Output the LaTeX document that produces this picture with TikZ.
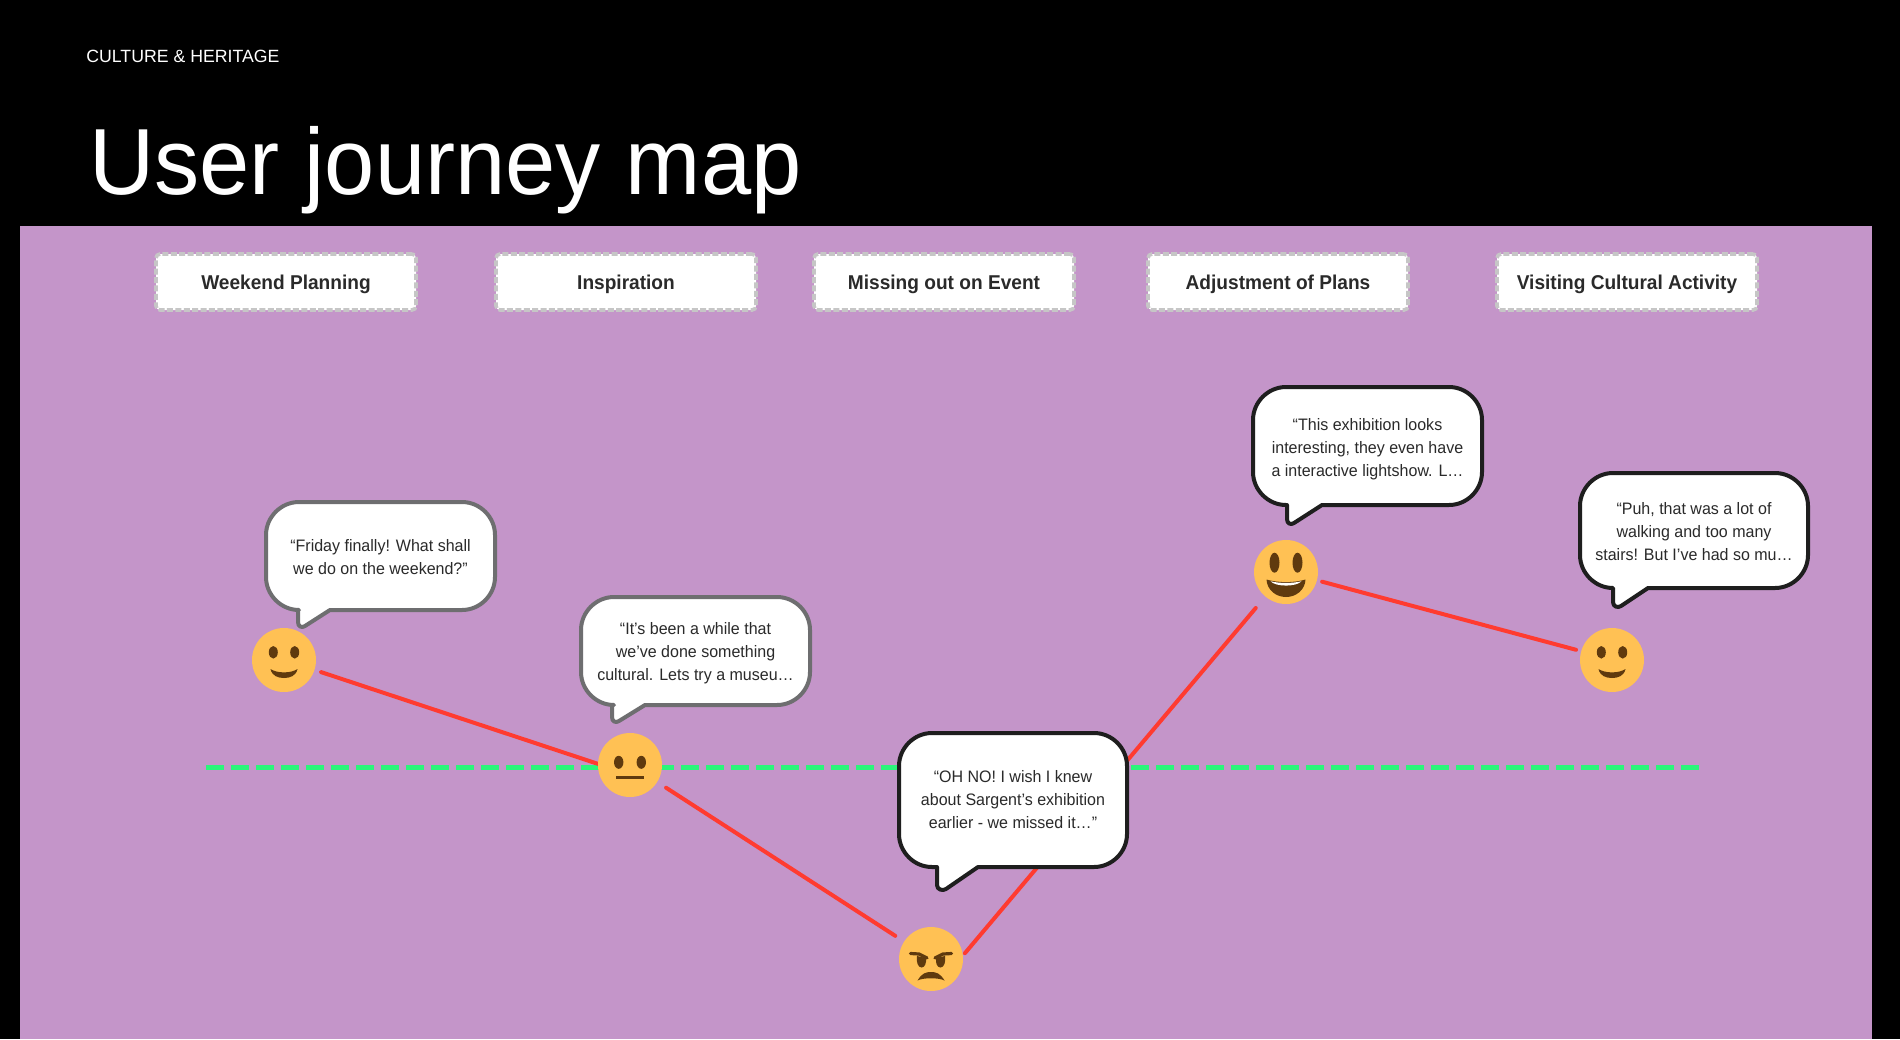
\documentclass[tikz,border=0pt]{standalone}
\usepackage{fontspec}
\setmainfont{Liberation Sans}
\newfontfamily\quotefont[FakeStretch=0.965]{Liberation Sans}
\newfontfamily\titlefont[FakeStretch=0.96]{Liberation Sans}
\newfontfamily\tilefont[FakeStretch=0.955]{Liberation Sans Bold}
\usetikzlibrary{calc}
\definecolor{stage}{HTML}{C495C9}
\definecolor{facefill}{HTML}{FFC154}
\definecolor{facedark}{HTML}{5F3A0E}
\definecolor{redline}{HTML}{FF3B30}
\definecolor{greenline}{HTML}{2BF57A}
\definecolor{inkdark}{HTML}{1E1E1E}
\definecolor{inkgrey}{HTML}{6E6E70}
\definecolor{tileedge}{HTML}{C6C6C6}
\definecolor{inktext}{HTML}{2A2A2A}
\pgfdeclarelayer{back}
\pgfsetlayers{back,main}
\tikzset{
  x=0.5pt,y=-0.5pt,
  tile/.style={draw=tileedge,fill=white,line width=1.8pt,dash pattern=on 3pt off 1.2pt,rounded corners=2pt,minimum width=130pt,minimum height=28pt,inner sep=0pt,text height=8.5pt,text depth=1.5pt,font=\tilefont\fontsize{10}{12}\selectfont,text=inktext},
  face/.style={circle,fill=facefill,minimum size=32pt,inner sep=0pt,outer sep=0pt},
  journey/.style={draw=redline,line width=2pt,line cap=round},
  quote/.style={align=center,inner sep=0pt,font=\quotefont\fontsize{8.3}{11.5}\selectfont,text=inktext},
  feat/.style={fill=facedark,draw=none},
}
\begin{document}
\begin{tikzpicture}
\useasboundingbox (0,0) rectangle (1900,1039);
\begin{pgfonlayer}{back}
\fill[black] (0,0) rectangle (1900,1039);
\fill[stage] (20,225.5) rectangle (1872,1039);
\coordinate (gstart) at (206,767);
\coordinate (gend) at (1702,767);
\draw[greenline,line width=2.5pt,dash pattern=on 9pt off 3.5pt] (gstart) -- (gend);
\end{pgfonlayer}

\node[anchor=base west,inner sep=0pt,text=white,font=\fontsize{8.85}{11}\selectfont] (kicker) at (86,62) {CULTURE \& HERITAGE};
\node[anchor=base west,inner sep=0pt,text=white,font=\titlefont\fontsize{47}{56}\selectfont] (title) at (89,194) {User journey map};

\node[tile] (t1) at (286,282) {Weekend Planning};
\node[tile] (t2) at (626,282) {Inspiration};
\node[tile] (t3) at (944,282) {Missing out on Event};
\node[tile] (t4) at (1278,282) {Adjustment of Plans};
\node[tile] (t5) at (1627,282) {Visiting Cultural Activity};

\node[face] (e1) at (284,660) {};
\node[face] (e2) at (630,765) {};
\node[face] (e3) at (931,959) {};
\node[face] (e4) at (1286,572) {};
\node[face] (e5) at (1612,660) {};

\begin{pgfonlayer}{back}
\draw[journey,shorten <=3.5pt] (e1.-18) -- (e2.178);
\draw[journey,shorten <=5.3pt,shorten >=5.3pt] (e2.-32.6) -- (e3.147.4);
\draw[journey,shorten <=1.6pt,shorten >=7.5pt] (e3.6.5) -- (e4.-130);
\draw[journey,shorten <=2.7pt,shorten >=2.7pt] (e4.-15.5) -- (e5.164.5);
\end{pgfonlayer}

% smile faces
\foreach \f in {e1,e5}{
\begin{scope}[shift={(\f.center)}]
  \fill[feat] (-10.7,-7.7) ellipse [x radius=4.5,y radius=6.3];
  \fill[feat] (10.7,-7.7) ellipse [x radius=4.5,y radius=6.3];
  \fill[feat] (-13.5,9) .. controls (-7,13.5) and (7,13.5) .. (13.5,9) .. controls (12,16) and (6,18) .. (0,18) .. controls (-6,18) and (-12,16) .. (-13.5,9) -- cycle;
\end{scope}}
% neutral
\begin{scope}[shift={(e2.center)}]
  \fill[feat] (-11.3,-2.7) ellipse [x radius=4.7,y radius=6.5];
  \fill[feat] (11.3,-2.7) ellipse [x radius=4.7,y radius=6.5];
  \fill[feat] (-14,10.7) rectangle (14,14.3);
\end{scope}
% angry
\begin{scope}[shift={(e3.center)}]
  \draw[facedark,line width=1.6pt,line cap=round] (-20.5,-5.5) -- (-12,-5) -- (-4,-1);
  \draw[facedark,line width=1.6pt,line cap=round] (20.5,-5.5) -- (12,-5) -- (4,-1);
  \fill[feat] (-14,-3) .. controls (-15,3) and (-13,8.5) .. (-9.5,8.5) .. controls (-6,8.5) and (-4.5,4) .. (-5,-1) -- cycle;
  \fill[feat] (14,-3) .. controls (15,3) and (13,8.5) .. (9.5,8.5) .. controls (6,8.5) and (4.5,4) .. (5,-1) -- cycle;
  \fill[feat] (-13.5,21.5) .. controls (-9,14) and (-5,13) .. (0,13) .. controls (5,13) and (9,14) .. (13.5,21.5) .. controls (8,18.5) and (-8,18.5) .. (-13.5,21.5) -- cycle;
\end{scope}
% grin
\begin{scope}[shift={(e4.center)}]
  \fill[feat] (-11.5,-9.3) ellipse [x radius=5,y radius=10];
  \fill[feat] (11.5,-9.3) ellipse [x radius=5,y radius=10];
  \fill[feat] (-19.5,7.5) .. controls (-8,11) and (8,11) .. (19.5,7.5) .. controls (19,18) and (10,25) .. (0,25) .. controls (-10,25) and (-19,18) .. (-19.5,7.5) -- cycle;
  \fill[white] (-15.5,9.3) .. controls (-6,11.5) and (6,11.5) .. (15.5,9.3) .. controls (10,15) and (-10,15) .. (-15.5,9.3) -- cycle;
\end{scope}

% bubbles
\foreach \xa/\ya/\xb/\yb/\tl/\tx/\ty/\tr/\col in {
  266/502/495/610/298/301/629/330/inkgrey,
  581/597/810/705/612/615/724/645/inkgrey,
  899/733/1127/867/937/942/892/978/inkdark,
  1253/387/1482/505/1287/1290/526/1322/inkdark,
  1580/473/1808/588/1613/1617/609/1648/inkdark}{
  \draw[fill=white,draw=\col,line width=2pt,line join=round]
    (\xa+33,\ya) -- (\xb-33,\ya)
    .. controls (\xb-15,\ya) and (\xb,\ya+15) .. (\xb,\ya+33)
    -- (\xb,\yb-33)
    .. controls (\xb,\yb-15) and (\xb-15,\yb) .. (\xb-33,\yb)
    -- (\tr,\yb) -- (\tx+4,\ty-3)
    .. controls (\tx+1,\ty-1) and (\tl,\ty-2) .. (\tl,\ty-7)
    -- (\tl,\yb) -- (\xa+33,\yb)
    .. controls (\xa+15,\yb) and (\xa,\yb-15) .. (\xa,\yb-33)
    -- (\xa,\ya+33)
    .. controls (\xa,\ya+15) and (\xa+15,\ya) .. (\xa+33,\ya) -- cycle;
}
\node[quote] (q1) at (380.5,557) {“Friday finally! What shall\\we do on the weekend?”};
\node[quote] (q2) at (695.5,653) {“It’s been a while that\\we’ve done something\\cultural. Lets try a museu…};
\node[quote] (q3) at (1013,800) {“OH NO! I wish I knew\\about Sargent’s exhibition\\earlier - we missed it…”};
\node[quote] (q4) at (1367.5,449) {“This exhibition looks\\interesting, they even have\\a interactive lightshow. L…};
\node[quote] (q5) at (1694,532) {“Puh, that was a lot of\\walking and too many\\stairs! But I’ve had so mu…};
\end{tikzpicture}
\end{document}
